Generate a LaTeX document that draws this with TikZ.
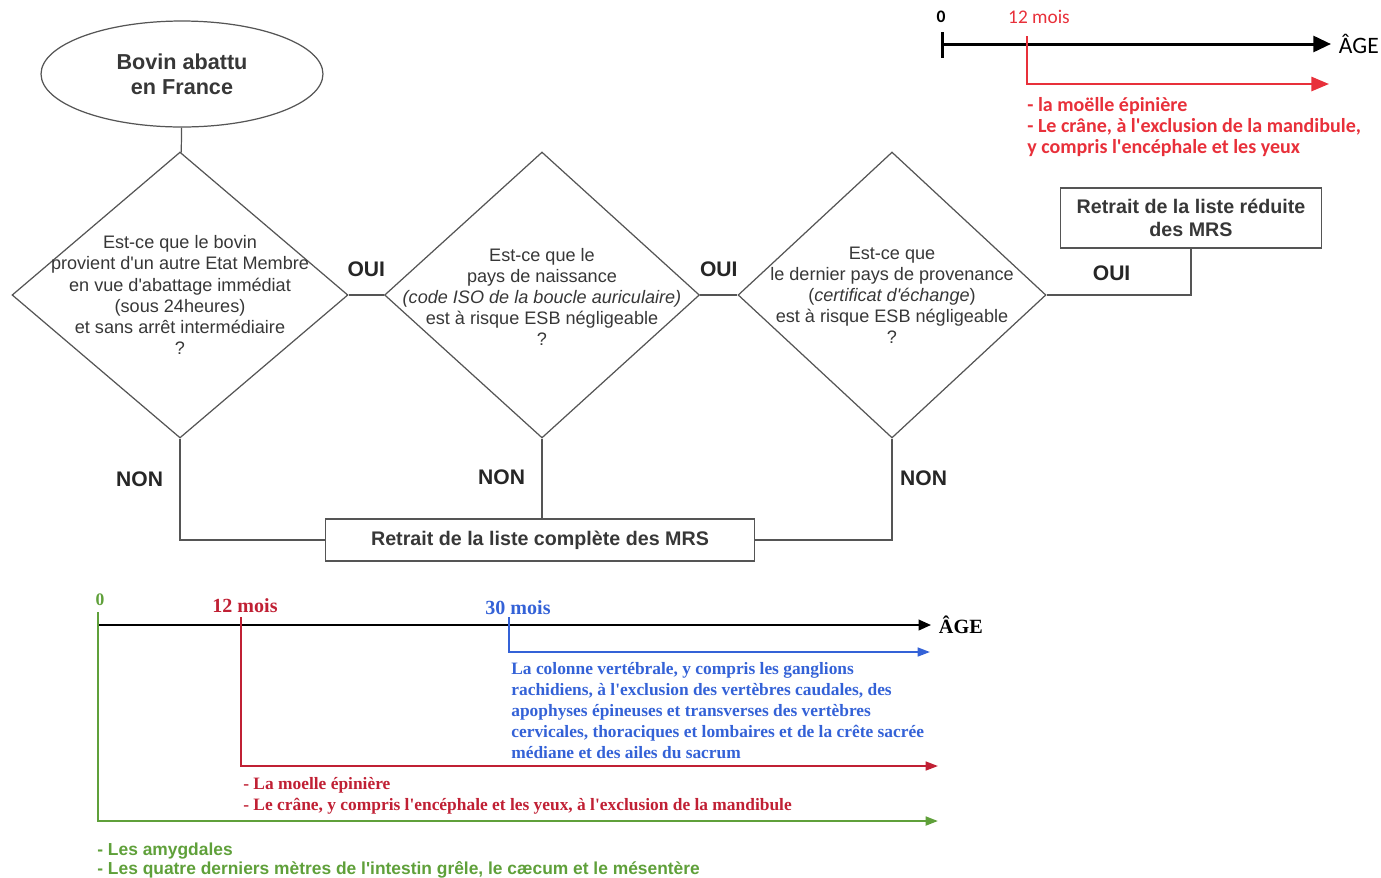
\documentclass[tikz,border=0pt]{standalone}
\usepackage{fontspec}
\defaultfontfeatures{Ligatures=TeXOff}
\setmainfont{Liberation Sans}[Ligatures=TeXOff]
\newfontfamily\calfont{Carlito}[Ligatures=TeXOff]
\newfontfamily\romfont{Liberation Serif}[Ligatures=TeXOff]
\usetikzlibrary{positioning,shapes.geometric,arrows.meta}
\definecolor{ink}{RGB}{55,55,55}
\definecolor{edge}{RGB}{85,85,85}
\definecolor{redtop}{RGB}{232,48,58}
\definecolor{redlow}{RGB}{192,32,52}
\definecolor{bluelow}{RGB}{52,98,215}
\definecolor{greenlow}{RGB}{95,160,58}

\begin{document}
\begin{tikzpicture}[x=0.02cm,y=-0.02cm,
    link/.style={draw=edge,line width=0.7pt},
    question/.style={link,diamond,inner sep=0pt,minimum height=5.72cm},
    qtext/.style={align=center,text=ink,font=\fontsize{10.3}{12}\selectfont},
    resultbox/.style={link,align=center,text=ink,font=\bfseries\fontsize{11.2}{13}\selectfont},
    answer/.style={text=black!85,font=\bfseries\fontsize{12}{14}\selectfont}]

  \useasboundingbox (0,0) rectangle (1381,877);

  % flowchart
  \node[link,ellipse,minimum width=5.64cm,minimum height=2.12cm,align=center,text=ink,
        font=\bfseries\fontsize{12.3}{14.2}\selectfont] (bovin) at (182,74) {Bovin abattu\\en France};

  \node[question,minimum width=6.72cm] (q1) at (180,295) {};
  \node[question,minimum width=6.3cm] (q2) at (542,295) {};
  \node[question,minimum width=6.16cm] (q3) at (892,295) {};

  \node[qtext] (q1text) at (q1) {Est-ce que le bovin\\provient d'un autre Etat Membre\\en vue d'abattage immédiat\\(sous 24heures)\\et sans arrêt intermédiaire\\?};
  \node[qtext] (q2text) at (542,297) {Est-ce que le\\pays de naissance\\\textit{(code ISO de la boucle auriculaire)}\\est à risque ESB négligeable\\?};
  \node[qtext] (q3text) at (q3) {Est-ce que\\le dernier pays de provenance\\(\textit{certificat d'échange})\\est à risque ESB négligeable\\?};

  \node[resultbox,minimum width=5.22cm,minimum height=1.2cm] (reduite) at (1191,218) {Retrait de la liste réduite\\des MRS};
  \node[resultbox,minimum width=8.58cm,minimum height=0.84cm] (complete) at (540,540) {Retrait de la liste complète des MRS};

  \draw[link] (bovin) -- (q1);
  \draw[link] (q1.east) -- node[answer,above=7pt]{OUI} (q2.west);
  \draw[link] (q2.east) -- node[answer,above=7pt]{OUI} (q3.west);
  \draw[link] (q3.east) -- node[answer,above=4.5pt,pos=0.45]{OUI} (q3.east -| reduite.south) -- (reduite.south);

  \draw[link] (q1.south) -- node[answer,left=6pt,pos=0.4]{NON} (q1.south |- complete.west) -- (complete.west);
  \draw[link] (q2.south) -- node[answer,left=6pt,pos=0.48]{NON} (q2.south |- complete.north);
  \draw[link] (q3.south) -- node[answer,right=1pt,pos=0.39]{NON} (q3.south |- complete.east) -- (complete.east);

  % upper age scale
  \coordinate (top0) at (942,44);
  \coordinate (topend) at (1331,44);
  \coordinate (top12) at (1027,36);
  \draw[line width=1.7pt,-{Triangle[length=10pt,width=9pt]}] (top0) -- (topend);
  \draw[line width=1.7pt] (942,32) -- (942,58);
  \draw[redtop,line width=1.4pt,-{Triangle[length=10pt,width=8pt]}] (top12) -- (1027,84) -- (1329,84);
  \node[font=\calfont\bfseries\fontsize{10}{12}\selectfont] (zero top) at (941,17) {0};
  \node[text=redtop,font=\calfont\fontsize{11}{12}\selectfont] (mois12 top) at (1039,17) {12 mois};
  \node[right=1pt of topend,font=\calfont\fontsize{13.4}{15}\selectfont] (age top) {ÂGE};
  \node[anchor=north west,inner sep=0pt,align=left,text=redtop,font=\calfont\bfseries\fontsize{11.4}{12}\selectfont] (mrs top) at (1027,97)
    {- la moëlle épinière\\- Le crâne, à l'exclusion de la mandibule,\\y compris l'encéphale et les yeux};

  % lower age scale
  \coordinate (low0) at (98,625);
  \coordinate (lowend) at (931,625);
  \draw[line width=1.1pt,-{Triangle[length=7pt,width=6pt]}] (low0) -- (lowend);
  \draw[greenlow,line width=1.3pt,-{Triangle[length=7pt,width=5pt]}] (98,612) -- (98,821) -- (938,821);
  \draw[redlow,line width=1.1pt,-{Triangle[length=7pt,width=5pt]}] (241,617) -- (241,766) -- (938,766);
  \draw[bluelow,line width=1.1pt,-{Triangle[length=7pt,width=5pt]}] (509,617) -- (509,652) -- (930,652);
  \node[text=greenlow,font=\romfont\bfseries\fontsize{10}{12}\selectfont] (zero low) at (100,600) {0};
  \node[text=redlow,font=\romfont\bfseries\fontsize{11.4}{13}\selectfont] (mois12 low) at (245,606) {12 mois};
  \node[text=bluelow,font=\romfont\bfseries\fontsize{11.4}{13}\selectfont] (mois30 low) at (518,608) {30 mois};
  \node[right=1pt of lowend,font=\romfont\bfseries\fontsize{11.5}{13}\selectfont] (age low) {ÂGE};
  \node[anchor=north west,inner sep=0pt,align=left,text=bluelow,font=\romfont\bfseries\fontsize{9.9}{11.9}\selectfont] (mrs30) at (511,662)
    {La colonne vertébrale, y compris les ganglions\\rachidiens, à l'exclusion des vertèbres caudales, des\\apophyses épineuses et transverses des vertèbres\\cervicales, thoraciques et lombaires et de la crête sacrée\\médiane et des ailes du sacrum};
  \node[anchor=north west,inner sep=0pt,align=left,text=redlow,font=\romfont\bfseries\fontsize{9.9}{11.9}\selectfont] (mrs12) at (243,777)
    {- La moelle épinière\\- Le crâne, y compris l'encéphale et les yeux, à l'exclusion de la mandibule};
  \node[anchor=north west,inner sep=0pt,align=left,text=greenlow,font=\bfseries\fontsize{9.9}{10.8}\selectfont] (mrs0) at (97,843)
    {- Les amygdales\\- Les quatre derniers mètres de l'intestin grêle, le cæcum et le mésentère};
\end{tikzpicture}
\end{document}
